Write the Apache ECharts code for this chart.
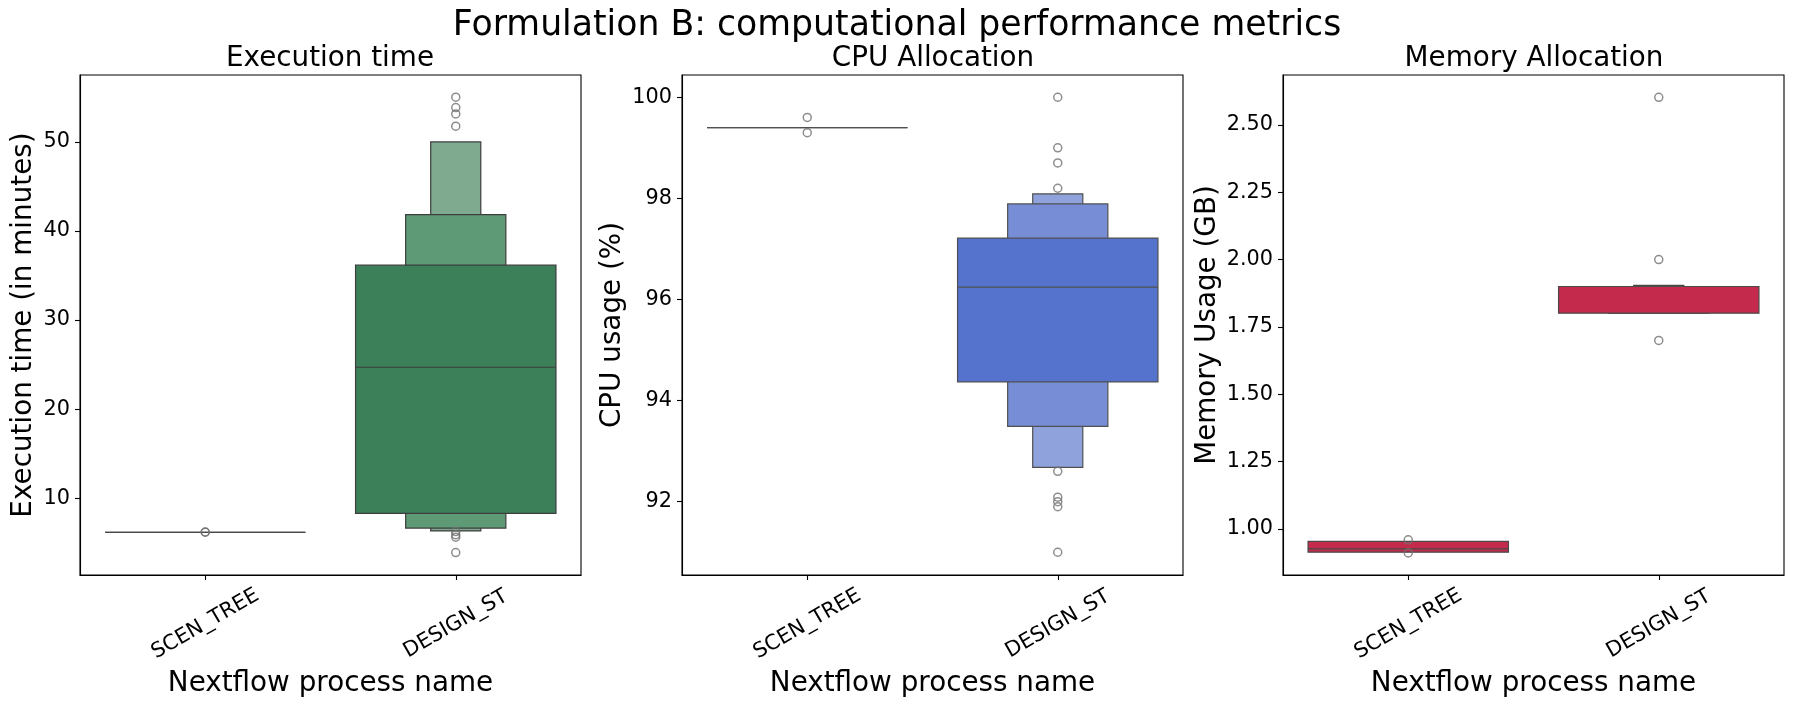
<!DOCTYPE html>
<html lang="en">
<head>
    <meta charset="utf-8">
    <title>Formulation B: computational performance metrics</title>
    <script src="https://cdn.jsdelivr.net/npm/echarts@6.0.0/dist/echarts.min.js"></script>
    <style>
        body { margin: 0; background: #fff; }
        #chart { width: 1794px; height: 707px; }
    </style>
</head>
<body>
<div id="chart"></div>
<script type="text/javascript">
    // ---- data ----
    var categories = ['SCEN_TREE', 'DESIGN_ST'];

    // boxen levels per category: [low, high], innermost level first
    var execLevels = [
        [[6.17, 6.17]],
        [[8.30, 36.16], [6.64, 41.83], [6.32, 50.0]]
    ];
    var execMedians = [6.17, 24.7];
    var execOutliers = [
        [6.2, 6.17],
        [55.03, 53.86, 53.15, 51.77, 6.25, 5.88, 5.62, 3.89]
    ];

    var cpuLevels = [
        [[99.40, 99.40]],
        [[94.37, 97.215], [93.49, 97.89], [92.68, 98.09]]
    ];
    var cpuMedians = [99.40, 96.243];
    var cpuOutliers = [
        [99.60, 99.30],
        [100.0, 99.0, 98.70, 98.20, 92.60, 92.09, 92.0, 91.90, 91.0]
    ];

    var memLevels = [
        [[0.914, 0.954]],
        [[1.801, 1.900], [1.801, 1.900], [1.900, 1.904]]
    ];
    var memMedians = [0.926, 1.900];
    var memOutliers = [
        [0.960, 0.9115],
        [2.602, 2.00, 1.70]
    ];

    var execTicks = [10, 20, 30, 40, 50];
    var cpuTicks = [92, 94, 96, 98, 100];
    var memTicks = [1.00, 1.25, 1.50, 1.75, 2.00, 2.25, 2.50];

    // ---- styling ----
    var FONT = 'DejaVu Sans';
    var panels = [
        { title: 'Execution time', ylabel: 'Execution time (in minutes)', levels: execLevels, medians: execMedians,
          outliers: execOutliers, ticks: execTicks, min: 1.37, max: 57.52, digits: 0,
          fills: ['#3c805a', '#5f9a77', '#7faa8f'], edge: '#3d3d3d', left: 80, gap: 42, center: 330 },
        { title: 'CPU Allocation', ylabel: 'CPU usage (%)', levels: cpuLevels, medians: cpuMedians,
          outliers: cpuOutliers, ticks: cpuTicks, min: 90.55, max: 100.44, digits: 0,
          fills: ['#5573cc', '#778ed6', '#8fa2dc'], edge: '#505050', left: 682, gap: 55, center: 933 },
        { title: 'Memory Allocation', ylabel: 'Memory Usage (GB)', levels: memLevels, medians: memMedians,
          outliers: memOutliers, ticks: memTicks, min: 0.8294, max: 2.685, digits: 2,
          fills: ['#c42a4b', '#c42a4b', '#c42a4b'], edge: '#4a4a4a', left: 1283, gap: 61, center: 1534 }
    ];

    var chart = echarts.init(document.getElementById('chart'), null, { renderer: 'canvas' });

    var grids = [], xAxes = [], yAxes = [], series = [];
    var titles = [{
        text: 'Formulation B: computational performance metrics',
        left: 897, top: 8, textAlign: 'center', padding: 0,
        textStyle: { fontFamily: FONT, fontSize: 34.7, fontWeight: 'normal', color: '#000' }
    }];

    panels.forEach(function (p, i) {
        titles.push({
            text: p.title, left: p.center, top: 45, textAlign: 'center', padding: 0,
            textStyle: { fontFamily: FONT, fontSize: 27.8, fontWeight: 'normal', color: '#000' }
        });
        grids.push({
            left: p.left, top: 75, width: 501, height: 500,
            show: true, borderColor: '#000', borderWidth: 1.1, backgroundColor: 'transparent'
        });
        xAxes.push({
            type: 'category', gridIndex: i, data: categories,
            name: 'Nextflow process name', nameLocation: 'middle', nameGap: 95,
            nameTextStyle: { fontFamily: FONT, fontSize: 27.8, color: '#000' },
            axisLine: { show: true, lineStyle: { color: '#000', width: 1.1 } },
            axisTick: { show: true, alignWithLabel: true, length: 5, lineStyle: { color: '#000', width: 1.1 } },
            axisLabel: {
                rotate: 30, align: 'center', verticalAlign: 'middle', margin: 49,
                fontFamily: FONT, fontSize: 20.8, color: '#000'
            },
            splitLine: { show: false }
        });
        yAxes.push({
            type: 'value', gridIndex: i, min: p.min, max: p.max,
            name: p.ylabel, nameLocation: 'middle', nameGap: p.gap,
            nameTextStyle: { fontFamily: FONT, fontSize: 27.8, color: '#000' },
            axisLine: { show: true, lineStyle: { color: '#000', width: 1.1 } },
            axisTick: { show: true, length: 5, customValues: p.ticks, lineStyle: { color: '#000', width: 1.1 } },
            axisLabel: {
                customValues: p.ticks, margin: 10,
                fontFamily: FONT, fontSize: 20.8, color: '#000',
                formatter: (function (d) { return function (v) { return v.toFixed(d); }; })(p.digits)
            },
            splitLine: { show: false }
        });

        // boxes: narrowest level drawn first so the main box sits on top
        var boxData = [];
        p.levels.forEach(function (lv, c) {
            for (var k = lv.length - 1; k >= 0; k--) {
                boxData.push([c, lv[k][0], lv[k][1], k]);
            }
        });
        series.push({
            type: 'custom', xAxisIndex: i, yAxisIndex: i, silent: true,
            encode: { x: 0, y: [1, 2] },
            data: boxData,
            renderItem: (function (fills, edge) {
                return function (params, api) {
                    var c = api.value(0), lvl = api.value(3);
                    var top = api.coord([c, api.value(2)]);
                    var bot = api.coord([c, api.value(1)]);
                    var w = api.size([1, 0])[0] * 0.8 / Math.pow(2, lvl);
                    return {
                        type: 'rect',
                        shape: { x: top[0] - w / 2, y: top[1], width: w, height: bot[1] - top[1] },
                        style: { fill: fills[lvl], stroke: edge, lineWidth: 1.2 }
                    };
                };
            })(p.fills, p.edge)
        });

        // median lines
        series.push({
            type: 'custom', xAxisIndex: i, yAxisIndex: i, silent: true,
            encode: { x: 0, y: 1 },
            data: p.medians.map(function (m, c) { return [c, m]; }),
            renderItem: (function (edge) {
                return function (params, api) {
                    var pt = api.coord([api.value(0), api.value(1)]);
                    var w = api.size([1, 0])[0] * 0.8;
                    return {
                        type: 'line',
                        shape: { x1: pt[0] - w / 2, y1: pt[1], x2: pt[0] + w / 2, y2: pt[1] },
                        style: { stroke: edge, lineWidth: 1.2 }
                    };
                };
            })(p.edge)
        });

        // outliers as open grey circles
        var outData = [];
        p.outliers.forEach(function (arr, c) {
            arr.forEach(function (v) { outData.push([c, v]); });
        });
        series.push({
            type: 'scatter', xAxisIndex: i, yAxisIndex: i, silent: true,
            data: outData, symbol: 'circle', symbolSize: 8,
            itemStyle: { color: 'rgba(0,0,0,0)', borderColor: '#707070', borderWidth: 1.5 },
            z: 5
        });
    });

    var option = {
        backgroundColor: '#fff',
        animation: false,
        title: titles,
        grid: grids,
        xAxis: xAxes,
        yAxis: yAxes,
        series: series
    };
    chart.setOption(option);
</script>
</body>
</html>
